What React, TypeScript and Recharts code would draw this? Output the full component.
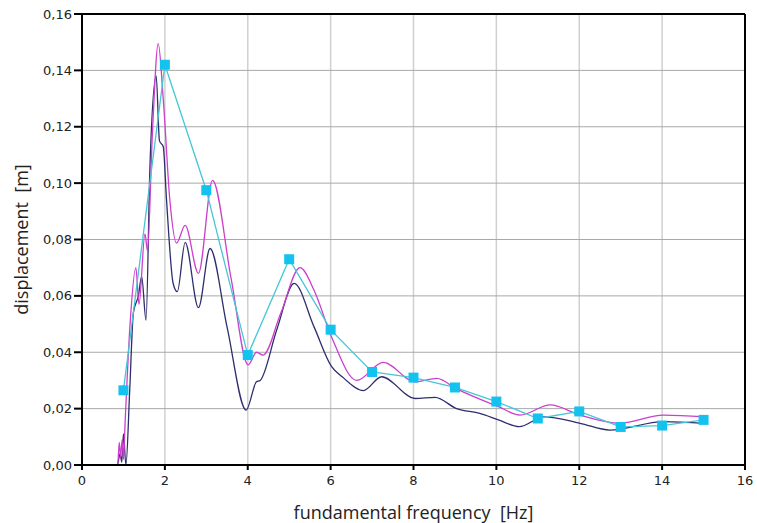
import React from 'react';
import { LineChart, Line, XAxis, YAxis, CartesianGrid, ReferenceLine } from 'recharts';

// measured points (squares)
const measuredFreq = [1, 2, 3, 4, 5, 6, 7, 8, 9, 10, 11, 12, 13, 14, 15];
const measuredDisp = [0.0265, 0.142, 0.0975, 0.039, 0.073, 0.048, 0.033, 0.031, 0.0275, 0.0225, 0.0165, 0.019, 0.0135, 0.014, 0.016];

// magenta curve
const magentaFreq = [0, 0.86, 0.9, 0.93, 0.97, 1.0, 1.04, 1.16, 1.3, 1.375, 1.52, 1.58, 1.7, 1.84, 1.96, 2.12, 2.28, 2.49, 2.81, 3.15, 3.6, 4.01, 4.21, 4.37, 4.8, 5.26, 5.6, 6.02, 6.63, 7.27, 8.04, 8.56, 9.04, 10.05, 10.57, 11.3, 12.02, 12.98, 14.03, 15.03];
const magentaDisp = [0, 0, 0.008, 0.003, 0.009, 0.002, 0.015, 0.05, 0.07, 0.057, 0.082, 0.076, 0.118, 0.1495, 0.13, 0.094, 0.0787, 0.085, 0.068, 0.101, 0.066, 0.0355, 0.04, 0.039, 0.054, 0.07, 0.062, 0.0455, 0.03, 0.0364, 0.0295, 0.0307, 0.027, 0.0207, 0.0177, 0.0213, 0.0177, 0.0148, 0.0177, 0.0171];

// navy curve
const navyFreq = [0, 0.85, 0.92, 0.96, 1.0, 1.06, 1.15, 1.24, 1.36, 1.44, 1.545, 1.64, 1.79, 1.87, 1.96, 2.04, 2.2, 2.3, 2.49, 2.81, 3.09, 3.5, 3.96, 4.21, 4.3, 4.7, 5.12, 5.6, 6.02, 6.28, 6.79, 7.23, 8.04, 8.52, 9.04, 9.6, 10.05, 10.55, 11.15, 12.02, 12.74, 14.03, 15.03];
const navyDisp = [0, 0, 0.004, 0.001, 0.011, 0, 0.026, 0.054, 0.06, 0.0668, 0.0514, 0.106, 0.138, 0.115, 0.113, 0.094, 0.0644, 0.0615, 0.079, 0.0558, 0.0768, 0.049, 0.0195, 0.0295, 0.03, 0.048, 0.0644, 0.049, 0.035, 0.0313, 0.0264, 0.0313, 0.0236, 0.024, 0.02, 0.0183, 0.016, 0.0136, 0.0171, 0.0148, 0.0124, 0.0154, 0.0148];

const xTicks = [0, 2, 4, 6, 8, 10, 12, 14, 16];
const yTicks = [0, 0.02, 0.04, 0.06, 0.08, 0.1, 0.12, 0.14, 0.16];

const toPoints = (xs: number[], ys: number[]) => xs.map((f, i) => ({ f, d: ys[i] }));

const measuredData = toPoints(measuredFreq, measuredDisp);
const magentaData = toPoints(magentaFreq, magentaDisp);
const navyData = toPoints(navyFreq, navyDisp);

const tickFont = { fontSize: 13, fill: '#222', fontFamily: 'DejaVu Sans' };
const labelFont = { fontSize: 18, fill: '#222', fontFamily: 'Open Sans' };

const SquareDot = (props: any) => {
  const { cx, cy, index } = props;
  if (cx == null || cy == null) return null;
  return <rect key={`sq-${index}`} x={cx - 5} y={cy - 5} width={10} height={10} fill="#14c2f0" />;
};

export default function App() {
  return (
    <div style={{ width: 757, height: 523, background: '#fff' }}>
      <style>{'body{margin:0}'}</style>
      <LineChart width={757} height={523} margin={{ top: 14, right: 12, bottom: 0, left: 0 }}>
        <CartesianGrid horizontal={false} stroke="#d0d0d0" strokeWidth={1.5} />
        <CartesianGrid vertical={false} stroke="#a8a8a8" strokeWidth={1} />
        <XAxis
          type="number"
          dataKey="f"
          domain={[0, 16]}
          ticks={xTicks}
          allowDataOverflow
          height={58}
          stroke="#000"
          strokeWidth={2}
          tickSize={5}
          tickMargin={6}
          tick={tickFont}
          label={{ value: 'fundamental frequency\u00a0 [Hz]', position: 'insideBottom', offset: 4, style: labelFont }}
        />
        <YAxis
          type="number"
          domain={[0, 0.16]}
          ticks={yTicks}
          allowDataOverflow
          width={82}
          stroke="#000"
          strokeWidth={2}
          tickSize={8}
          tickMargin={2}
          tick={tickFont}
          tickFormatter={(v: number) => v.toFixed(2).replace('.', ',')}
          label={{ value: 'displacement\u00a0 [m]', angle: -90, position: 'insideLeft', offset: 22, style: { ...labelFont, textAnchor: 'middle' } }}
        />
        <ReferenceLine x={16} stroke="#000" strokeWidth={2} />
        <ReferenceLine y={0.16} stroke="#000" strokeWidth={2} />
        <Line data={navyData} dataKey="d" type="monotone" stroke="#2e2e6e" strokeWidth={1.3} dot={false} isAnimationActive={false} />
        <Line data={magentaData} dataKey="d" type="monotone" stroke="#cc3fcc" strokeWidth={1.3} dot={false} isAnimationActive={false} />
        <Line data={measuredData} dataKey="d" type="linear" stroke="#45c6d6" strokeWidth={1.3} dot={SquareDot} isAnimationActive={false} />
      </LineChart>
    </div>
  );
}
